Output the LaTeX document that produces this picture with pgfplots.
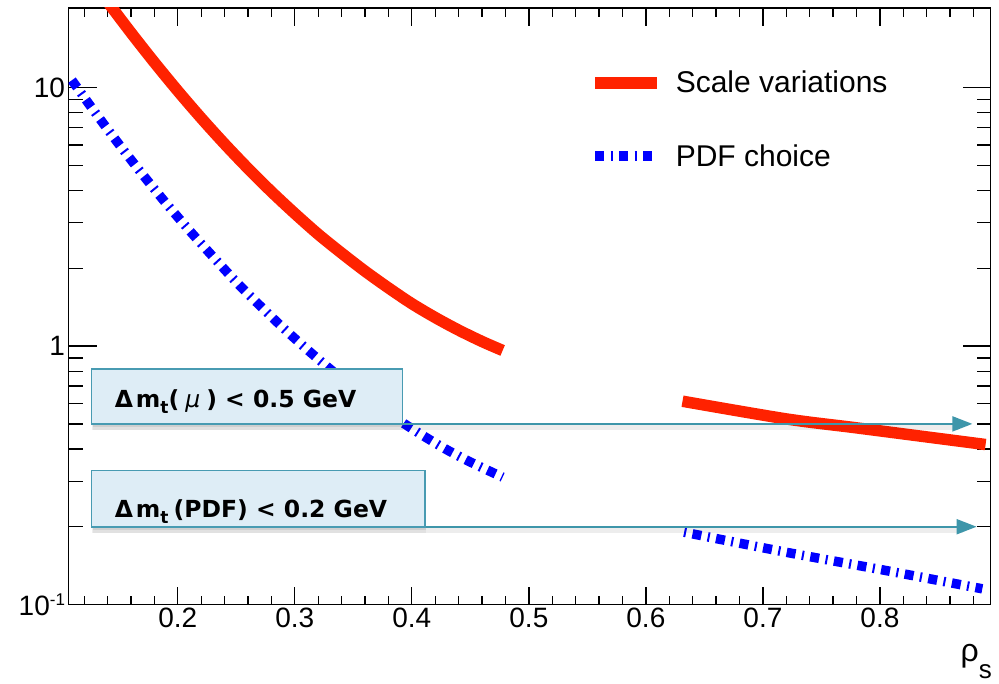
\documentclass[border=0pt]{standalone}
\usepackage{pgfplots}
\pgfplotsset{compat=1.18}
\usepackage{fontspec}
\setmainfont{Liberation Sans}
\newfontfamily\notefont{DejaVu Sans}
\usetikzlibrary{arrows.meta,shadows}

\definecolor{scalered}{RGB}{255,34,0}
\definecolor{pdfblue}{RGB}{0,0,255}
\definecolor{arrowteal}{RGB}{62,150,170}
\definecolor{notefill}{RGB}{222,237,246}
\definecolor{noteedge}{RGB}{72,155,178}

\tikzset{
  noteshadow/.style={
    drop shadow={shadow xshift=1pt, shadow yshift=-3pt, opacity=0.08, fill=black},
    drop shadow={shadow xshift=1pt, shadow yshift=-6pt, opacity=0.05, fill=black}},
  notebox/.style={noteedge, line width=1.8pt, fill=notefill, noteshadow},
  notetext/.style={anchor=base west, inner sep=0pt,
    font=\notefont\bfseries\fontsize{23.5}{28}\selectfont},
  limitarrow/.style={arrowteal, line width=2pt, -{Triangle[length=20pt,width=15pt]}},
  arrowshadow/.style={black, opacity=0.07, line width=5pt},
}

\begin{document}
\begin{tikzpicture}
\useasboundingbox (0pt,0pt) rectangle (999pt,683pt);
\begin{axis}[
  at={(68.5pt,78.5pt)}, anchor=south west,
  scale only axis, width=922pt, height=596.5pt,
  ymode=log,
  xmin=0.1066, xmax=0.8945, ymin=0.1, ymax=20.35,
  axis line style={line width=1.6pt},
  every tick/.style={black, line width=1.3pt},
  major tick length=28pt, minor tick length=14pt,
  every major x tick/.append style={/pgfplots/major tick length=18pt},
  every minor x tick/.append style={/pgfplots/minor tick length=9pt},
  xtick={0.2,0.3,0.4,0.5,0.6,0.7,0.8},
  minor xtick={0.12,0.14,0.16,0.18,0.22,0.24,0.26,0.28,0.32,0.34,0.36,0.38,
    0.42,0.44,0.46,0.48,0.52,0.54,0.56,0.58,0.62,0.64,0.66,0.68,
    0.72,0.74,0.76,0.78,0.82,0.84,0.86,0.88},
  xticklabel style={/pgf/number format/.cd, fixed, fixed zerofill, precision=1},
  ytick={0.1,1,10},
  yticklabels={10\raisebox{10pt}{\fontsize{17}{17}\selectfont -1},1,10},
  tick label style={font=\fontsize{28}{30}\selectfont},
  /pgf/number format/assume math mode=true,
  legend cell align=left,
  legend style={at={(rel axis cs:0.5646,0.8944)}, anchor=north west,
    draw=none, fill=none, inner sep=0pt, row sep=50pt,
    font=\fontsize{30}{34}\selectfont,
    nodes={inner sep=0pt},
    /tikz/every odd column/.append style={column sep=13pt}},
  legend image code/.code={\draw[#1] (0pt,0pt) -- (62pt,0pt);},
]
% scale variations
\addplot[scalered, line width=11.5pt, smooth] coordinates {
  (0.140,21.5) (0.16,16.33) (0.18,12.53) (0.20,9.72) (0.22,7.63)
  (0.24,6.06) (0.26,4.87) (0.28,3.96) (0.30,3.26) (0.32,2.71)
  (0.34,2.29) (0.36,1.95) (0.38,1.68) (0.40,1.46) (0.42,1.29)
  (0.44,1.153) (0.46,1.042) (0.4776,0.962)
};
\addlegendentry{Scale variations}
\addplot[scalered, line width=11.5pt, smooth, forget plot] coordinates {
  (0.6313,0.612) (0.7196,0.523) (0.7764,0.485) (0.8190,0.458) (0.8903,0.416)
};
% PDF choice
\addplot[pdfblue, line width=9.5pt, smooth,
  dash pattern=on 9pt off 6.5pt on 2pt off 6.5pt] coordinates {
  (0.1095,10.69) (0.13,7.95) (0.15,6.02) (0.17,4.61) (0.19,3.57)
  (0.21,2.80) (0.23,2.22) (0.25,1.77) (0.27,1.437) (0.29,1.177)
  (0.31,0.975) (0.33,0.816) (0.35,0.691) (0.37,0.592) (0.39,0.513)
  (0.41,0.449) (0.43,0.397) (0.45,0.356) (0.4776,0.311)
};
\addlegendentry{PDF choice}
\addplot[pdfblue, line width=9.5pt, smooth, forget plot,
  dash pattern=on 2pt off 6.5pt on 9pt off 6.5pt] coordinates {
  (0.6327,0.1905) (0.7196,0.1594) (0.8050,0.1354) (0.8875,0.115)
};

% limit arrows with soft shadows
\draw[arrowshadow] ([yshift=-4pt]axis cs:0.1263,0.5) -- ([yshift=-4pt]axis cs:0.868,0.5);
\draw[limitarrow] (axis cs:0.1263,0.5) -- (axis cs:0.879,0.5);
\draw[arrowshadow] ([yshift=-4pt]axis cs:0.1263,0.2) -- ([yshift=-4pt]axis cs:0.871,0.2);
\draw[limitarrow] (axis cs:0.1263,0.2) -- (axis cs:0.8826,0.2);

% annotation boxes
\draw[notebox] (axis cs:0.1263,0.5) rectangle (axis cs:0.392,0.818);
\node[notetext] at (axis cs:0.146,0.580)
  {Δ\hspace{3pt}m\raisebox{-6pt}{\fontsize{17}{17}\selectfont t}(\hspace{6pt}{\mdseries\itshape μ}\hspace{6pt}) < 0.5 GeV};
\draw[notebox] (axis cs:0.1263,0.2) rectangle (axis cs:0.4115,0.330);
\node[notetext] at (axis cs:0.146,0.2178)
  {Δ\hspace{3pt}m\raisebox{-6pt}{\fontsize{17}{17}\selectfont t}\hspace{5pt}(PDF) < 0.2 GeV};
\end{axis}
\node[anchor=base east, inner sep=0pt, font=\fontsize{32}{36}\selectfont]
  at (992pt,21.4pt) {ρ\raisebox{-17pt}{\fontsize{26}{28}\selectfont s}};
\end{tikzpicture}
\end{document}
